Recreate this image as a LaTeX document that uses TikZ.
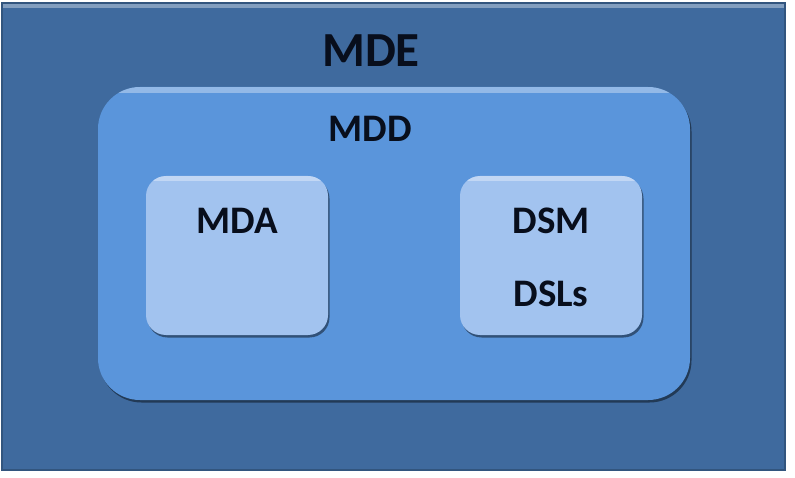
\documentclass[tikz,border=0pt]{standalone}
\usepackage{fontspec}
\setmainfont{Carlito}
\usetikzlibrary{shadows}
\definecolor{mdeblue}{HTML}{3F6A9E}
\definecolor{mddblue}{HTML}{5A95DB}
\definecolor{boxblue}{HTML}{A2C3EF}
\definecolor{inktext}{HTML}{080E1C}
\tikzset{
  lbl/.style={text=inktext, font=\bfseries, inner sep=0pt, anchor=base},
  outerbox/.style={fill=mdeblue, draw=mdeblue!80!black, line width=1.5pt},
  mddbox/.style={fill=mddblue, rounded corners=42pt,
    drop shadow={shadow xshift=1.5pt, shadow yshift=-2.5pt, fill=black, opacity=0.45}},
  techbox/.style={fill=boxblue, rounded corners=20pt,
    drop shadow={shadow xshift=1.5pt, shadow yshift=-2.5pt, fill=black, opacity=0.45}},
  glint/.style={white, opacity=0.35},
}
\begin{document}
\begin{tikzpicture}[x=1pt, y=-1pt]
  \useasboundingbox (0,0) rectangle (795,478);
  \fill[white] (0,0) rectangle (795,478);
  % frame for MDE, with a light top edge
  \path[outerbox] (2,3) rectangle (785,470);
  \fill[glint] (3,4) rectangle (784,8);
  % MDD region with a lighter rim along its top
  \path[mddbox] (98,87) rectangle (690,400);
  \begin{scope}
    \clip[rounded corners=42pt] (98,87) rectangle (690,400);
    \fill[glint] (98,87) rectangle (690,93);
  \end{scope}
  % the two approaches inside MDD
  \path[techbox] (146,176) rectangle (328,335);
  \begin{scope}
    \clip[rounded corners=20pt] (146,176) rectangle (328,335);
    \fill[glint] (146,176) rectangle (328,181);
  \end{scope}
  \path[techbox] (460,176) rectangle (642,335);
  \begin{scope}
    \clip[rounded corners=20pt] (460,176) rectangle (642,335);
    \fill[glint] (460,176) rectangle (642,181);
  \end{scope}
  % labels
  \node[lbl, font=\fontsize{49}{49}\selectfont\bfseries] (mde) at (371,67) {MDE};
  \node[lbl, font=\fontsize{39}{39}\selectfont\bfseries] (mdd) at (370,142) {MDD};
  \node[lbl, font=\fontsize{39}{39}\selectfont\bfseries] (mda) at (237,234) {MDA};
  \node[lbl, font=\fontsize{39}{39}\selectfont\bfseries] (dsm) at (551,234) {DSM};
  \node[lbl, font=\fontsize{39}{39}\selectfont\bfseries] (dsl) at (551,307) {DSLs};
\end{tikzpicture}
\end{document}
